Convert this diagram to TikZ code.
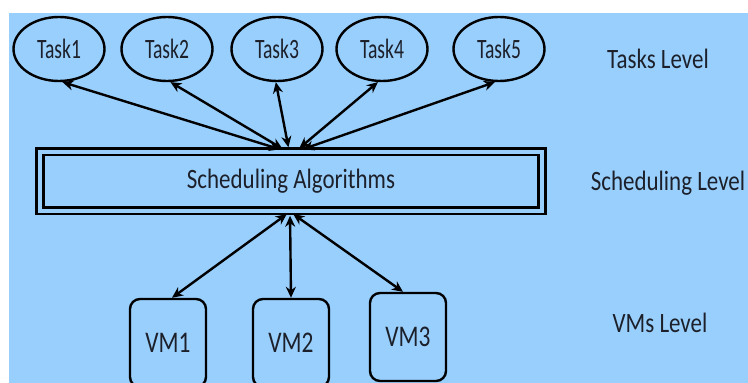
\documentclass[tikz,border=0pt]{standalone}
\usepackage{fontspec}
\setmainfont{Carlito}
\newfontfamily\taskfont[FakeStretch=0.7]{Carlito}
\newfontfamily\levelfont[FakeStretch=0.82]{Carlito}
\newfontfamily\vmfont[FakeStretch=0.78]{Carlito}
\usepackage{xcolor}
\usepackage{tikz}
\usetikzlibrary{arrows.meta,shapes.geometric}
\definecolor{skyback}{RGB}{153,207,252}
\definecolor{inkgray}{RGB}{28,32,42}

\begin{document}
\begin{tikzpicture}[x=1pt,y=-1pt,
  task/.style={ellipse,draw,line width=2.4pt,minimum width=91pt,minimum height=64pt,inner sep=0pt,text=inkgray,font=\taskfont\fontsize{28}{28}\selectfont},
  vmbox/.style={draw,rounded corners=10pt,line width=2.4pt,minimum width=76pt,minimum height=88pt,inner sep=0pt,text=inkgray,font=\vmfont\fontsize{30}{30}\selectfont},
  algobox/.style={draw,double=skyback,line width=2.6pt,double distance=4pt,minimum width=502pt,minimum height=59pt,inner sep=0pt,text=inkgray,font=\levelfont\fontsize{28}{28}\selectfont},
  level/.style={text=inkgray,font=\levelfont\fontsize{28}{28}\selectfont},
  link/.style={{Stealth[length=11pt,width=10pt]}-{Stealth[length=11pt,width=10pt]},line width=2.4pt}]
\useasboundingbox (0,0) rectangle (748,383);
\clip (0,0) rectangle (748,383);
\fill[white] (0,0) rectangle (748,383);
\fill[skyback] (9,13) rectangle (748,383);
\node[task] (task1) at (59,49) {Task1};
\node[task] (task2) at (167,49) {Task2};
\node[task] (task3) at (277,49) {Task3};
\node[task] (task4) at (382,49) {Task4};
\node[task] (task5) at (499,49) {Task5};
\node[algobox] (algo) at (291,181) {Scheduling Algorithms};
\node[vmbox] (vm1) at (168,343) {VM1};
\node[vmbox] (vm2) at (291,343) {VM2};
\node[vmbox] (vm3) at (408,337) {VM3};
\node[level] (tasklevel) at (658,59) {Tasks Level};
\node[level] (schedlevel) at (668,183) {Scheduling Level};
\node[level] (vmlevel) at (660,323) {VMs Level};
\draw[link,shorten >=3pt] (task1.-84) -- ([xshift=-8pt]algo.north);
\draw[link,shorten >=3pt] (task2.-84) -- ([xshift=-6pt]algo.north);
\draw[link,shorten >=3pt] (task3.-92) -- ([xshift=-2pt]algo.north);
\draw[link,shorten >=3pt] (task4.-97) -- ([xshift=6pt]algo.north);
\draw[link,shorten >=3pt] (task5.-97) -- ([xshift=9pt]algo.north);
\draw[link,shorten <=4pt] ([xshift=-1pt]algo.south) -- ([xshift=4pt]vm1.north);
\draw[link,shorten <=4pt] ([xshift=-1pt]algo.south) -- (vm2.north);
\draw[link,shorten <=4pt] ([xshift=-1pt]algo.south) -- ([xshift=-5pt]vm3.north);
\end{tikzpicture}
\end{document}
